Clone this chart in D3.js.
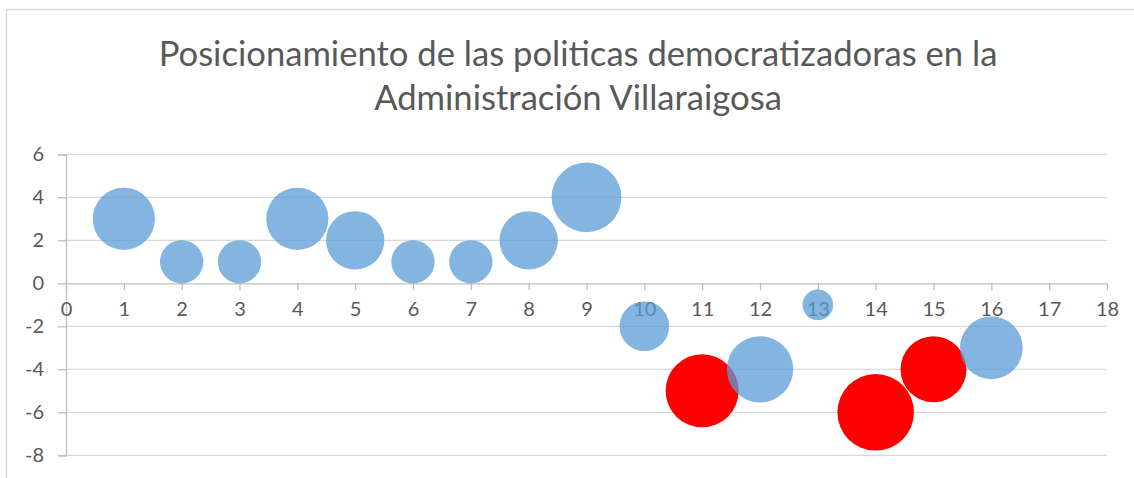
<!DOCTYPE html>
<html>
<head>
<meta charset="utf-8">
<script src="https://cdn.jsdelivr.net/npm/d3@7"></script>
<style>
  html, body { margin: 0; padding: 0; background: #fff; }
  svg { display: block; }
</style>
</head>
<body>
<svg id="chart" width="1134" height="478"></svg>
<script>
// ---- data ----
const titleLines = ["Posicionamiento de las politicas democratizadoras en la", "Administración Villaraigosa"];
const xValues = [1, 2, 3, 4, 5, 6, 7, 8, 9, 10, 11, 12, 13, 14, 15, 16];
const yValues = [3, 1, 1, 3, 2, 1, 1, 2, 4, -2, -5, -4, -1, -6, -4, -3];
const bubbleSizes = [6.6, 3.2, 3.2, 6.6, 5.8, 3.2, 3.2, 5.8, 8.3, 4.2, 9.1, 7.5, 1.6, 10, 7.4, 6.7];
const highlighted = [false, false, false, false, false, false, false, false, false, false, true, false, false, true, true, false];
const xTicks = d3.range(0, 19, 1);
const yTicks = [-8, -6, -4, -2, 0, 2, 4, 6];

// ---- layout ----
const W = 1134, H = 478;
const plot = { left: 66, right: 1107, top: 154.3, bottom: 455.3 };
const svg = d3.select("#chart");

// chart border
svg.append("path")
  .attr("d", `M${W + 5},9.5 H6.5 V${H + 5}`)
  .attr("fill", "none").attr("stroke", "#d9d9d9").attr("stroke-width", 1.5);

const x = d3.scaleLinear().domain([0, 18]).range([plot.left, plot.right]);
const y = d3.scaleLinear().domain([-8, 6]).range([plot.bottom, plot.top]);
const r = d3.scaleSqrt().domain([0, d3.max(bubbleSizes)]).range([0, 38.3]);

const font = "Lato, 'Open Sans', sans-serif";

// title (sized so the first line spans the same width as the reference)
const title = svg.append("text")
  .attr("text-anchor", "middle")
  .attr("font-family", font)
  .attr("font-weight", 400)
  .attr("font-size", 32)
  .attr("fill", "#595959");
const spans = titleLines.map((t, i) =>
  title.append("tspan").attr("x", 578).attr("y", 66 + i * 44).text(t));
const w0 = spans[0].node().getComputedTextLength();
if (w0 > 0) title.attr("font-size", 32 * 839 / w0);

// gridlines
svg.append("g").selectAll("line").data(yTicks.filter(d => d !== 0)).join("line")
  .attr("x1", plot.left).attr("x2", plot.right)
  .attr("y1", d => y(d)).attr("y2", d => y(d))
  .attr("stroke", "#d9d9d9").attr("stroke-width", 1.3);

// y axis
const yAxis = svg.append("g")
  .attr("transform", `translate(${plot.left},0)`)
  .call(d3.axisLeft(y).tickValues(yTicks).tickSize(8).tickPadding(14).tickFormat(d3.format("d")));
yAxis.select(".domain").attr("stroke", "#bfbfbf").attr("stroke-width", 1.3);
yAxis.selectAll(".tick line").attr("stroke", "#bfbfbf").attr("stroke-width", 1.3);
yAxis.selectAll(".tick text")
  .attr("font-family", font).attr("font-size", 20).attr("fill", "#595959")
  .text(d => d < 0 ? "-" + Math.abs(d) : d);

// x axis along y = 0
const xAxis = svg.append("g")
  .attr("transform", `translate(0,${y(0)})`)
  .call(d3.axisBottom(x).tickValues(xTicks).tickSize(7).tickSizeOuter(0).tickPadding(12).tickFormat(d3.format("d")));
xAxis.select(".domain").attr("stroke", "#bfbfbf").attr("stroke-width", 1.3);
xAxis.selectAll(".tick line").attr("stroke", "#bfbfbf").attr("stroke-width", 1.3);
xAxis.selectAll(".tick text")
  .attr("font-family", font).attr("font-size", 20).attr("fill", "#595959");

// bubbles
const pts = xValues.map((xv, i) => ({ x: xv, y: yValues[i], s: bubbleSizes[i], hi: highlighted[i] }));
svg.append("g").selectAll("circle").data(pts).join("circle")
  .attr("cx", d => x(d.x))
  .attr("cy", d => y(d.y))
  .attr("r", d => r(d.s))
  .attr("fill", d => d.hi ? "#ff0000" : "#5b9bd5")
  .attr("fill-opacity", d => d.hi ? 1 : 0.75);
</script>
</body>
</html>
